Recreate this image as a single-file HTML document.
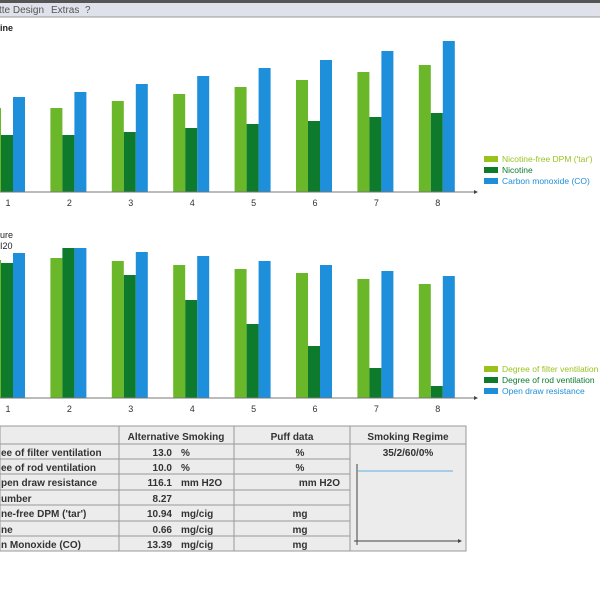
<!DOCTYPE html>
<html><head><meta charset="utf-8"><style>
body{margin:0;width:600px;height:600px;overflow:hidden;background:#fff;font-family:"Liberation Sans",sans-serif}
</style></head><body>
<svg id="s" width="600" height="600" xmlns="http://www.w3.org/2000/svg" font-family="Liberation Sans, sans-serif">
<rect x="0" y="0" width="600" height="3" fill="#555"/>
<rect x="0" y="3" width="600" height="14" fill="#dfe2ea"/>
<line x1="0" y1="17" x2="600" y2="17" stroke="#999"/>
<text x="-1" y="13" font-size="10" fill="#555">tte Design</text>
<text x="51" y="13" font-size="10" fill="#555">Extras</text>
<text x="85" y="13" font-size="10" fill="#555">?</text>
<text x="0" y="31" font-size="9" font-weight="bold" fill="#222">ine</text>
<text x="0" y="238" font-size="9" fill="#222">ure</text>
<text x="0" y="249" font-size="9" fill="#222">I20</text>
<g id="bars"></g>
<line x1="0" y1="192" x2="474" y2="192" stroke="#777"/><path d="M474 190 L478 192 L474 194Z" fill="#444"/>
<line x1="0" y1="398" x2="474" y2="398" stroke="#777"/><path d="M474 396 L478 398 L474 400Z" fill="#444"/>
<g font-size="8.5">
<rect x="484" y="156" width="14" height="6" fill="#9ac21e"/><text x="502" y="162" fill="#9ac21e">Nicotine-free DPM ('tar')</text>
<rect x="484" y="167" width="14" height="6" fill="#0e7a2c"/><text x="502" y="173" fill="#0e7a2c">Nicotine</text>
<rect x="484" y="178" width="14" height="6" fill="#1e8ed8"/><text x="502" y="184" fill="#1e8ed8">Carbon monoxide (CO)</text>
<rect x="484" y="366" width="14" height="6" fill="#9ac21e"/><text x="502" y="372" fill="#9ac21e">Degree of filter ventilation</text>
<rect x="484" y="377" width="14" height="6" fill="#0e7a2c"/><text x="502" y="383" fill="#0e7a2c">Degree of rod ventilation</text>
<rect x="484" y="388" width="14" height="6" fill="#1e8ed8"/><text x="502" y="394" fill="#1e8ed8">Open draw resistance</text>
</g>
<g id="tbl"></g>
</svg>
<script>
var NS="http://www.w3.org/2000/svg",b=document.getElementById('bars');
function el(t,a,p,txt){var e=document.createElementNS(NS,t);for(var k in a)e.setAttribute(k,a[k]);if(txt!=null)e.textContent=txt;(p||b).appendChild(e);return e;}
var top1=[[108,135,97],[108,135,92],[101,132,84],[94,128,76],[87,124,68],[80,121,60],[72,117,51],[65,113,41]];
var top2=[[260,263,253],[258,248,248],[261,275,252],[265,300,256],[269,324,261],[273,346,265],[279,368,271],[284,386,276]];
var cols=["#6ab82a","#0e7a2c","#1d8fdb"];
for(var i=0;i<8;i++){var c=8+61.4*i;
 for(var j=0;j<3;j++){var x=c-19+12*j;
  el('rect',{x:x,y:top1[i][j],width:12,height:192-top1[i][j],fill:cols[j]});
  el('rect',{x:x,y:top2[i][j],width:12,height:398-top2[i][j],fill:cols[j]});}
 el('text',{x:c,y:206,'font-size':9,'text-anchor':'middle',fill:'#333'},null,String(i+1));
 el('text',{x:c,y:412,'font-size':9,'text-anchor':'middle',fill:'#333'},null,String(i+1));
}
var t=document.getElementById('tbl');
el('rect',{x:0,y:426,width:466,height:125,fill:'#ececec',stroke:'#999'},t);
var ys=[426,444,459,474,490,505,521,536,551],xs=[0,119,234,350,466];
for(var k=1;k<8;k++){el('line',{x1:0,y1:ys[k],x2:(k>=2?350:466),y2:ys[k],stroke:'#999'},t);}
for(var k=1;k<4;k++)el('line',{x1:xs[k],y1:426,x2:xs[k],y2:551,stroke:'#999'},t);
var s={'font-size':10,fill:'#333','font-weight':'bold'};
function tx(x,y,str,anc){var a=Object.assign({x:x,y:y},s);if(anc)a['text-anchor']=anc;el('text',a,t,str);}
tx(176,440,'Alternative Smoking','middle');tx(292,440,'Puff data','middle');tx(408,440,'Smoking Regime','middle');
tx(408,456,'35/2/60/0%','middle');
var lab=['ee of filter ventilation','ee of rod ventilation','pen draw resistance','umber','ne-free DPM (\'tar\')','ne','n Monoxide (CO)'];
var val=['13.0','10.0','116.1','8.27','10.94','0.66','13.39'];
var un=['%','%','mm H2O','','mg/cig','mg/cig','mg/cig'];
var pu=['%','%','mm H2O','','mg','mg','mg'];
for(var r=0;r<7;r++){var y=ys[r+1]+12;tx(1,y,lab[r]);tx(172,y,val[r],'end');tx(181,y,un[r]);
 if(r==2)tx(340,y,pu[r],'end');else tx(300,y,pu[r],'middle');}
el('line',{x1:357,y1:464,x2:357,y2:545,stroke:'#444'},t);
el('line',{x1:354,y1:541,x2:460,y2:541,stroke:'#444'},t);
el('path',{d:'M458 539 L462 541 L458 543Z',fill:'#444'},t);
el('line',{x1:358,y1:471,x2:453,y2:471,stroke:'#5ab0e0'},t);
</script>
</body></html>
